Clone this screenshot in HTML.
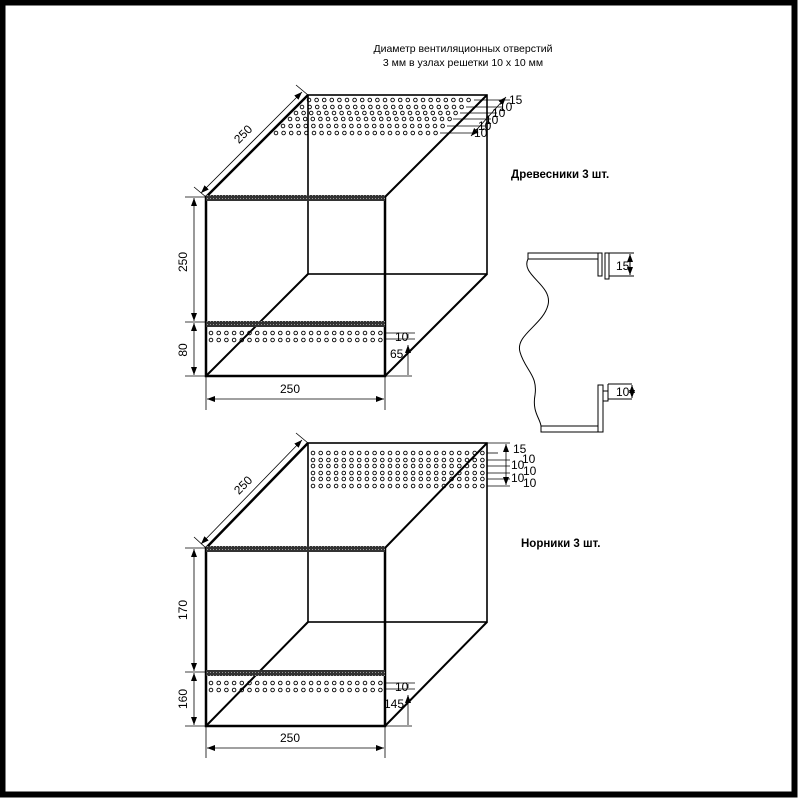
<!DOCTYPE html>
<html><head><meta charset="utf-8"><style>
html,body{margin:0;padding:0;background:#fff}
svg{display:block}
text{font-family:"Liberation Sans",sans-serif;fill:#000}
</style></head><body>
<svg id="s" width="800" height="800" viewBox="0 0 800 800" xmlns="http://www.w3.org/2000/svg">
<defs>
<marker id="a" markerWidth="8" markerHeight="6" refX="8" refY="3" orient="auto-start-reverse" markerUnits="userSpaceOnUse"><path d="M0,0 L8,3 L0,6 z" fill="#000"/></marker>
<pattern id="h" width="3" height="3" patternUnits="userSpaceOnUse"><rect width="3" height="3" fill="#333"/><rect width="1" height="1" fill="#999"/></pattern>
</defs>
<rect x="2.5" y="2.5" width="792" height="792" fill="none" stroke="#000" stroke-width="6"/>
<text x="463" y="52" font-size="10.5" text-anchor="middle">Диаметр вентиляционных отверстий</text>
<text x="463" y="66" font-size="10.5" text-anchor="middle">3 мм в узлах решетки 10 х 10 мм</text>
<text x="511" y="178" font-size="11.5" font-weight="bold">Древесники 3 шт.</text>
<text x="521" y="547" font-size="11.5" font-weight="bold">Норники 3 шт.</text>
<g id="holes"></g>
<g fill="none" stroke="#000">
<rect x="206" y="197" width="179" height="179" stroke-width="2.5"/>
<rect x="308" y="95" width="179" height="179" stroke-width="1.6"/>
<line x1="206" y1="197" x2="308" y2="95" stroke-width="2.5"/>
<line x1="385" y1="197" x2="487" y2="95" stroke-width="2"/>
<line x1="385" y1="376" x2="487" y2="274" stroke-width="2"/>
<line x1="206" y1="376" x2="308" y2="274" stroke-width="2"/>
<rect x="206" y="548" width="179" height="178" stroke-width="2.5"/>
<rect x="308" y="443" width="179" height="179" stroke-width="1.6"/>
<line x1="206" y1="548" x2="308" y2="443" stroke-width="2.5"/>
<line x1="385" y1="548" x2="487" y2="443" stroke-width="2"/>
<line x1="385" y1="726" x2="487" y2="622" stroke-width="2"/>
<line x1="206" y1="726" x2="308" y2="622" stroke-width="2"/>
</g>
<rect x="206" y="195" width="179" height="6" fill="url(#h)"/>
<rect x="206" y="321" width="179" height="6" fill="url(#h)"/>
<rect x="206" y="546" width="179" height="6" fill="url(#h)"/>
<rect x="206" y="670" width="179" height="6" fill="url(#h)"/>
<g stroke="#000" stroke-width="0.8" fill="none">
<line x1="185" y1="197" x2="206" y2="197"/><line x1="185" y1="322" x2="206" y2="322"/><line x1="185" y1="376" x2="206" y2="376"/>
<line x1="194" y1="198" x2="194" y2="321" marker-start="url(#a)" marker-end="url(#a)"/>
<line x1="194" y1="323" x2="194" y2="375" marker-start="url(#a)" marker-end="url(#a)"/>
<line x1="206" y1="376" x2="206" y2="410"/><line x1="385" y1="376" x2="385" y2="410"/>
<line x1="207" y1="399" x2="384" y2="399" marker-start="url(#a)" marker-end="url(#a)"/>
<line x1="194" y1="187" x2="206" y2="197"/><line x1="296" y1="85" x2="308" y2="95"/>
<line x1="201" y1="193" x2="302" y2="92" marker-start="url(#a)" marker-end="url(#a)"/>
<line x1="385" y1="333" x2="415" y2="333"/><line x1="385" y1="339" x2="415" y2="339"/>
<line x1="408" y1="334" x2="408" y2="338"/>
<line x1="408" y1="345" x2="408" y2="375" marker-start="url(#a)"/>
<line x1="385" y1="376" x2="412" y2="376"/>
<line x1="474" y1="100" x2="510" y2="100"/><line x1="466" y1="107" x2="503" y2="107"/>
<line x1="460" y1="113" x2="497" y2="113"/><line x1="453" y1="119" x2="491" y2="119"/>
<line x1="447" y1="126" x2="485" y2="126"/><line x1="440" y1="133" x2="478" y2="133"/>
<line x1="506" y1="97" x2="471" y2="136" marker-start="url(#a)" marker-end="url(#a)"/>
<line x1="185" y1="548" x2="206" y2="548"/><line x1="185" y1="672" x2="206" y2="672"/><line x1="185" y1="726" x2="206" y2="726"/>
<line x1="194" y1="549" x2="194" y2="671" marker-start="url(#a)" marker-end="url(#a)"/>
<line x1="194" y1="673" x2="194" y2="725" marker-start="url(#a)" marker-end="url(#a)"/>
<line x1="206" y1="726" x2="206" y2="758"/><line x1="385" y1="726" x2="385" y2="758"/>
<line x1="207" y1="748" x2="384" y2="748" marker-start="url(#a)" marker-end="url(#a)"/>
<line x1="194" y1="537" x2="206" y2="548"/><line x1="296" y1="433" x2="308" y2="443"/>
<line x1="201" y1="544" x2="302" y2="440" marker-start="url(#a)" marker-end="url(#a)"/>
<line x1="385" y1="683" x2="415" y2="683"/><line x1="385" y1="689" x2="415" y2="689"/>
<line x1="408" y1="684" x2="408" y2="688"/>
<line x1="408" y1="695" x2="408" y2="725" marker-start="url(#a)"/>
<line x1="385" y1="726" x2="412" y2="726"/>
<line x1="487" y1="443" x2="510" y2="443"/><line x1="487" y1="453" x2="498" y2="453"/>
<line x1="487" y1="460" x2="510" y2="460"/><line x1="487" y1="466" x2="510" y2="466"/>
<line x1="487" y1="473" x2="510" y2="473"/><line x1="487" y1="479" x2="510" y2="479"/>
<line x1="487" y1="486" x2="510" y2="486"/>
<line x1="506" y1="444" x2="506" y2="485" marker-start="url(#a)" marker-end="url(#a)"/>
</g>
<g font-size="12">
<text transform="translate(187,262) rotate(-90)" text-anchor="middle">250</text>
<text transform="translate(187,350) rotate(-90)" text-anchor="middle">80</text>
<text x="290" y="393" text-anchor="middle">250</text>
<text transform="translate(246,137) rotate(-45)" text-anchor="middle">250</text>
<text x="395" y="341">10</text>
<text x="390" y="358">65</text>
<text x="509" y="104">15</text><text x="499" y="111">10</text><text x="492" y="117">10</text>
<text x="485" y="124">10</text><text x="478" y="130">10</text><text x="474" y="137">10</text>
<text transform="translate(187,610) rotate(-90)" text-anchor="middle">170</text>
<text transform="translate(187,699) rotate(-90)" text-anchor="middle">160</text>
<text x="290" y="742" text-anchor="middle">250</text>
<text transform="translate(246,488) rotate(-45)" text-anchor="middle">250</text>
<text x="395" y="691">10</text>
<text x="384" y="708">145</text>
<text x="513" y="453">15</text><text x="522" y="463">10</text><text x="511" y="469">10</text>
<text x="523" y="475">10</text><text x="511" y="482">10</text><text x="523" y="487">10</text>
</g>
<g fill="none" stroke="#000" stroke-width="1">
<rect x="528" y="253" width="70" height="6"/>
<rect x="598" y="253" width="4" height="23"/>
<rect x="605" y="253" width="4" height="26"/>
<line x1="609" y1="253" x2="634" y2="253"/><line x1="609" y1="276" x2="634" y2="276"/>
<line x1="630" y1="254" x2="630" y2="275" marker-start="url(#a)" marker-end="url(#a)"/>
<path d="M528,259 C520,275 553,285 548,305 C543,325 515,335 520,352 C525,370 538,375 535,395 C532,412 540,418 541,426"/>
<rect x="541" y="426" width="57" height="6"/>
<rect x="598" y="385" width="5" height="47"/>
<rect x="603" y="391" width="5" height="10"/>
<line x1="608" y1="384" x2="632" y2="384"/><line x1="608" y1="399" x2="632" y2="399"/>
<line x1="608" y1="384" x2="608" y2="399"/>
<line x1="632" y1="385" x2="632" y2="398" marker-start="url(#a)" marker-end="url(#a)"/>
</g>
<text x="616" y="270" font-size="12">15</text>
<text x="616" y="396" font-size="12">10</text>
</svg>
<script>
var g=document.getElementById('holes'),ns='http://www.w3.org/2000/svg';
function c(x,y){var e=document.createElementNS(ns,'circle');e.setAttribute('cx',x);e.setAttribute('cy',y);e.setAttribute('r',1.8);e.setAttribute('fill','none');e.setAttribute('stroke','#000');e.setAttribute('stroke-width','0.9');g.appendChild(e);}
var rows=[100,107,113,119,126,133];
rows.forEach(function(y){var xs=308-(y-95)+6,xe=487-(y-95)-7;for(var x=xs;x<=xe;x+=7.6)c(x,y);});
[333,340].forEach(function(y){for(var x=211;x<=381;x+=7.7)c(x,y);});
rows.forEach(function(y,i){var yy=[453,460,466,473,479,486][i];for(var x=313;x<=483;x+=7.7)c(x,yy);});
[683,690].forEach(function(y){for(var x=211;x<=381;x+=7.7)c(x,y);});
</script>
</body></html>
